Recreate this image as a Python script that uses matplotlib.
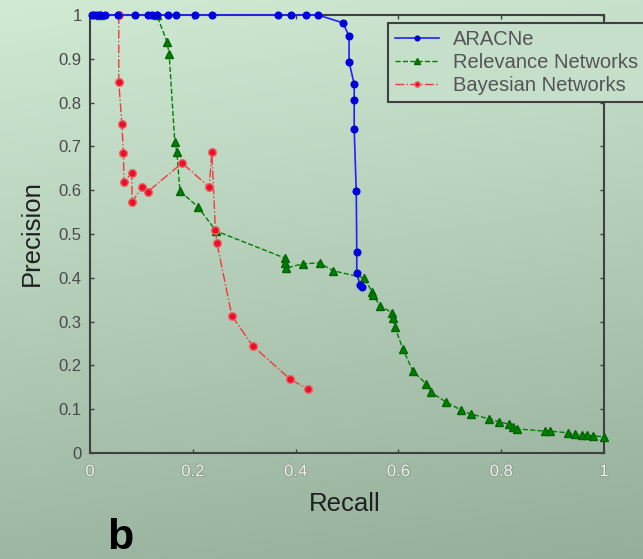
import numpy as np
import matplotlib
matplotlib.use("Agg")
import matplotlib.pyplot as plt
import matplotlib.patheffects as pe

plt.rcParams['font.family'] = ['Liberation Sans', 'DejaVu Sans']

# ARACNe
aracne_recall = [0.004, 0.008, 0.013, 0.019, 0.029, 0.054, 0.088, 0.113, 0.121, 0.130,
                 0.152, 0.167, 0.204, 0.237, 0.366, 0.391, 0.420, 0.444,
                 0.492, 0.504, 0.504, 0.514, 0.514, 0.514, 0.518, 0.519, 0.519, 0.525, 0.529]
aracne_prec = [1.0, 1.0, 1.0, 1.0, 1.0, 1.0, 1.0, 1.0, 1.0, 1.0,
               1.0, 1.0, 1.0, 1.0, 1.0, 1.0, 1.0, 1.0,
               0.982, 0.952, 0.893, 0.842, 0.806, 0.740, 0.598, 0.459, 0.411, 0.384, 0.379]

# Relevance Networks
relnet_recall = [0.02, 0.13, 0.150, 0.154, 0.165, 0.169, 0.175, 0.210, 0.245,
                 0.379, 0.379, 0.381, 0.414, 0.447, 0.473, 0.533, 0.549, 0.551,
                 0.564, 0.588, 0.589, 0.593, 0.609, 0.628, 0.654, 0.663, 0.693,
                 0.722, 0.741, 0.776, 0.796, 0.815, 0.823, 0.831, 0.885, 0.895,
                 0.930, 0.944, 0.957, 0.967, 0.979, 1.0]
relnet_prec = [1.0, 1.0, 0.938, 0.911, 0.710, 0.687, 0.598, 0.562, 0.507,
               0.445, 0.434, 0.422, 0.432, 0.434, 0.416, 0.400, 0.368, 0.361,
               0.336, 0.320, 0.308, 0.288, 0.237, 0.187, 0.158, 0.139, 0.116,
               0.098, 0.089, 0.078, 0.071, 0.066, 0.059, 0.055, 0.050, 0.050,
               0.046, 0.043, 0.041, 0.041, 0.039, 0.037]

# Bayesian Networks
bayes_recall = [0.056, 0.056, 0.062, 0.065, 0.066, 0.081, 0.082, 0.101, 0.112,
                0.179, 0.232, 0.237, 0.244, 0.247, 0.276, 0.317, 0.389, 0.424]
bayes_prec = [1.0, 0.847, 0.751, 0.685, 0.619, 0.639, 0.573, 0.607, 0.596,
              0.662, 0.607, 0.687, 0.509, 0.479, 0.313, 0.244, 0.169, 0.146]

xticks = [0, 0.2, 0.4, 0.6, 0.8, 1]
xticklabels = ['0', '0.2', '0.4', '0.6', '0.8', '1']
yticks = [0, 0.1, 0.2, 0.3, 0.4, 0.5, 0.6, 0.7, 0.8, 0.9, 1]
yticklabels = ['0', '0.1', '0.2', '0.3', '0.4', '0.5', '0.6', '0.7', '0.8', '0.9', '1']

W, H = 643, 559
fig = plt.figure(figsize=(W / 100, H / 100), dpi=100)

# greenish slide background
bg = fig.add_axes([0, 0, 1, 1])
yy, xx = np.mgrid[0:1:200j, 0:1:200j]
t = 0.85 * yy + 0.15 * xx
top = np.array([208, 234, 212]) / 255
bot = np.array([148, 174, 154]) / 255
img = top[None, None, :] * (1 - t[..., None]) + bot[None, None, :] * t[..., None]
bg.imshow(img, aspect='auto', extent=[0, 1, 0, 1], origin='upper')
bg.axis('off')

ax = fig.add_axes([90 / W, (H - 453) / H, 514 / W, 438 / H])
ax.set_facecolor('none')

ax.plot(relnet_recall, relnet_prec, '--', color='#008000', lw=1.0,
        marker='^', ms=6, mec='#006400', mfc='#008000', clip_on=False,
        label='Relevance Networks', zorder=3)
ax.plot(bayes_recall, bayes_prec, '-.', color='#f03a3a', lw=1.0,
        marker='o', ms=5.5, mec='#f06060', mfc='#e8102a', clip_on=False,
        label='Bayesian Networks', zorder=3)
ax.plot(aracne_recall, aracne_prec, '-', color='#2020ff', lw=1.2,
        marker='o', ms=4.8, mec='#0000d8', mfc='#0000d8', clip_on=False,
        label='ARACNe', zorder=4)

ax.set_xlim(0, 1)
ax.set_ylim(0, 1)
ax.set_xticks(xticks)
ax.set_xticklabels(xticklabels)
ax.set_yticks(yticks)
ax.set_yticklabels(yticklabels)
ax.tick_params(direction='in', length=3, width=1, top=True, right=True,
               color='#404040', labelsize=12)
ax.tick_params(axis='y', pad=6, labelcolor='#4a4a4a')
ax.tick_params(axis='x', pad=8, labelcolor='#eef3ee')
for lab in ax.get_xticklabels():
    lab.set_path_effects([pe.withStroke(linewidth=1.2, foreground='#8a9a8a')])
for s in ax.spines.values():
    s.set_color('#404040')
    s.set_linewidth(1.5)

fig.text(32 / W, 1 - 233 / H, 'Precision', rotation=90, fontsize=18.5,
         color='#202020', ha='center', va='center')
fig.text(345 / W, 1 - 504 / H, 'Recall', fontsize=18.5,
         color='#202020', ha='center', va='center')
fig.text(120 / W, 1 - 549 / H, 'b', fontsize=31, fontweight='bold',
         color='#000000', ha='center', va='baseline')

handles, labels = ax.get_legend_handles_labels()
order = [2, 0, 1]
leg = fig.legend([handles[i] for i in order], [labels[i] for i in order],
                 loc='upper left', bbox_to_anchor=(388 / W, 1 - 23 / H),
                 fontsize=14.5, frameon=True, fancybox=False,
                 handlelength=2.2, handletextpad=0.7,
                 borderpad=0.35, labelspacing=0.2, borderaxespad=0,
                 markerscale=0.7)
frame = leg.get_frame()
frame.set_facecolor('#c5dfca')
frame.set_edgecolor('#404040')
frame.set_alpha(1)
frame.set_linewidth(1.5)
for txt in leg.get_texts():
    txt.set_color('#555555')

fig.savefig('out.png', dpi=100)
